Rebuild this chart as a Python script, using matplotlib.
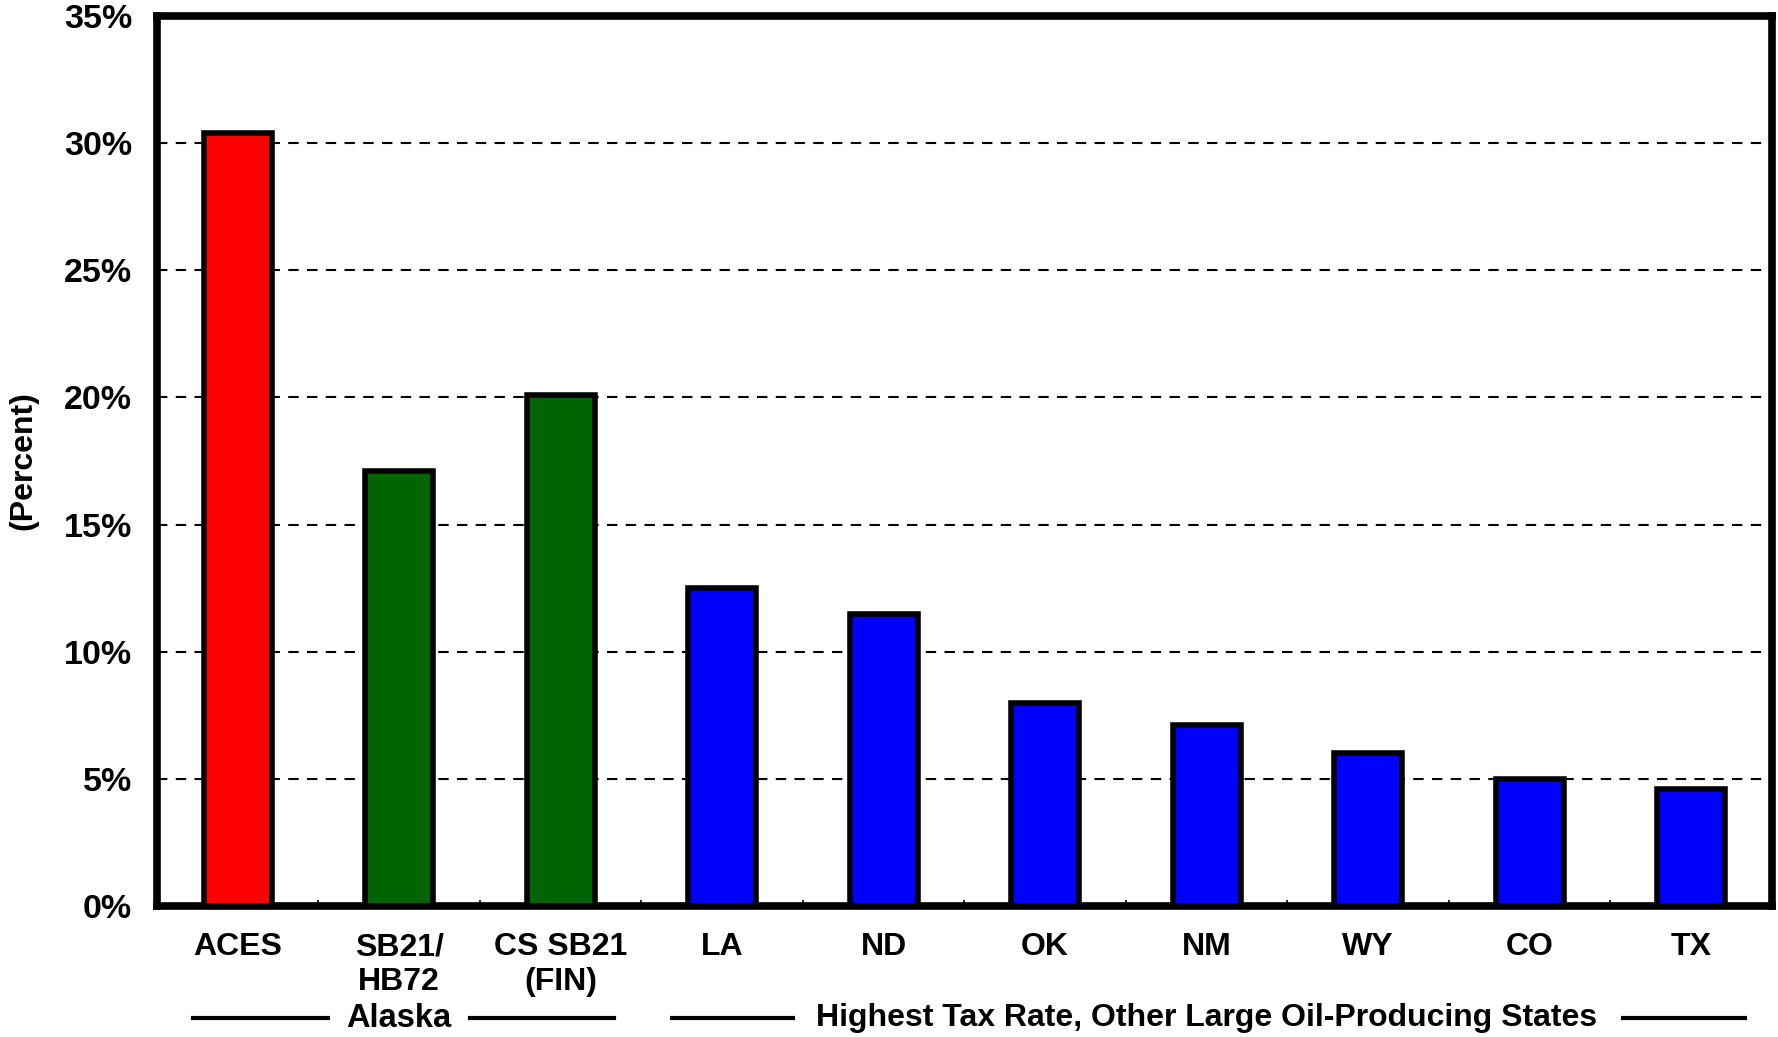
import numpy as np
import matplotlib
matplotlib.use('Agg')
import matplotlib.pyplot as plt
import matplotlib.transforms as mtransforms

# data
categories = ['ACES', 'SB21/\nHB72', 'CS SB21\n(FIN)', 'LA', 'ND', 'OK', 'NM', 'WY', 'CO', 'TX']
tax_rate = [30.4, 17.1, 20.1, 12.5, 11.5, 8.0, 7.1, 6.0, 5.0, 4.6]
bar_colors = ['#ff0000', '#006400', '#006400', '#0000ff', '#0000ff', '#0000ff',
              '#0000ff', '#0000ff', '#0000ff', '#0000ff']
yticks = [0, 5, 10, 15, 20, 25, 30, 35]

plt.rcParams['font.family'] = ['Liberation Sans', 'DejaVu Sans']
plt.rcParams['font.weight'] = 'bold'

fig = plt.figure(figsize=(17.78, 10.37), dpi=100)
ax = fig.add_axes([0.0883, 0.1263, 0.9083, 0.8583])

x = np.arange(len(categories))
ax.bar(x, tax_rate, width=0.42, color=bar_colors, edgecolor='black',
       linewidth=4, zorder=3)

ax.set_xlim(-0.5, 9.5)
ax.set_ylim(0, 35)
ax.set_yticks(yticks)
ax.set_yticklabels([f'{v}%' for v in yticks], fontsize=24.5, fontweight='bold')
ax.tick_params(axis='y', length=0, pad=18)

ax.set_xticks(x)
ax.set_xticklabels(categories, fontsize=23, fontweight='bold', linespacing=1.2)
ax.tick_params(axis='x', which='major', length=0, pad=19)
ax.set_xticks(x[:-1] + 0.5, minor=True)
ax.tick_params(axis='x', which='minor', direction='in', length=4, width=1.2)

for s in ax.spines.values():
    s.set_linewidth(5.5)

ax.yaxis.grid(True, color='black', linestyle=(0, (5, 4)), linewidth=1.5, zorder=1)
ax.set_axisbelow(True)

ax.set_ylabel('(Percent)', fontsize=23, fontweight='bold', labelpad=18)

# group labels under the axis
trans = mtransforms.blended_transform_factory(ax.transData, ax.transAxes)
gy = -0.1263
for x0, x1 in [(-0.28, 0.56), (1.44, 2.33), (2.69, 3.44), (8.58, 9.33)]:
    ax.plot([x0, x1], [gy, gy], color='black', linewidth=3, transform=trans,
            clip_on=False)
ax.text(1.0, gy, 'Alaska', transform=trans, ha='center', va='center',
        fontsize=23.5, fontweight='bold')
ax.text(6.0, gy, 'Highest Tax Rate, Other Large Oil-Producing States',
        transform=trans, ha='center', va='center', fontsize=23,
        fontweight='bold')

fig.savefig('out.png', dpi=100)
